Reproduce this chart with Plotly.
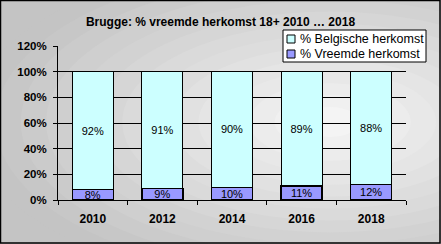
import plotly.graph_objects as go

years = ["2010", "2012", "2014", "2016", "2018"]
vreemde = [8, 9, 10, 11, 12]
belgische = [92, 91, 90, 89, 88]
y_ticks = [0, 20, 40, 60, 80, 100, 120]
y_tick_text = ["0%", "20%", "40%", "60%", "80%", "100%", "120%"]
series_names = ["% Belgische herkomst", "% Vreemde herkomst"]
series_colors = ["#CCFFFF", "#9999FF"]

W, H = 441, 244
L, R, T, B = 58, 35, 46, 44
PW, PH = W - L - R, H - T - B


def px_x(px):
    return (px - L) / PW


def px_y(py):
    return (H - B - py) / PH


fig = go.Figure()
fig.add_trace(go.Bar(
    x=years, y=vreemde, name=series_names[1],
    marker=dict(color=series_colors[1], line=dict(color="black", width=1.5)),
    text=[f"{v}%" for v in vreemde], textposition="inside",
    insidetextanchor="middle", constraintext="none",
    textfont=dict(family="Arial", size=11, color="black"),
    hoverinfo="skip", showlegend=False,
))
fig.add_trace(go.Bar(
    x=years, y=belgische, name=series_names[0],
    marker=dict(color=series_colors[0], line=dict(color="black", width=1)),
    text=[f"{v}%" for v in belgische], textposition="inside",
    insidetextanchor="middle", constraintext="none",
    textfont=dict(family="Arial", size=11, color="black"),
    hoverinfo="skip", showlegend=False,
))

# background gradient approximation (concentric ellipses)
shapes = []
n = 14
cx, cy = 330, 122
for i in range(n):
    f = i / (n - 1)
    rx = 360 * (1 - f) + 30 * f
    ry = 170 * (1 - f) + 15 * f
    c = int(0xC4 + (0xF4 - 0xC4) * f)
    col = f"rgb({c},{c},{c})"
    shapes.append(dict(type="circle", xref="paper", yref="paper", layer="below",
                       x0=px_x(cx - rx), x1=px_x(cx + rx),
                       y0=px_y(cy + ry), y1=px_y(cy - ry),
                       fillcolor=col, line=dict(width=0)))
# outer border
shapes.append(dict(type="rect", xref="paper", yref="paper", layer="above",
                   x0=px_x(0.5), x1=px_x(W - 1), y0=px_y(H - 1), y1=px_y(0.5),
                   line=dict(color="black", width=1.5), fillcolor="rgba(0,0,0,0)"))

# legend box (drawn manually to match compact Excel legend)
annotations = []
shapes.append(dict(type="rect", xref="paper", yref="paper", layer="above",
                   x0=px_x(283), x1=px_x(426), y0=px_y(62), y1=px_y(30),
                   line=dict(color="black", width=1), fillcolor="white"))
for i, (name, col) in enumerate(zip(series_names, series_colors)):
    yc = 39 + 15 * i
    shapes.append(dict(type="rect", xref="paper", yref="paper", layer="above",
                       x0=px_x(287), x1=px_x(295), y0=px_y(yc + 4), y1=px_y(yc - 4),
                       line=dict(color="black", width=1), fillcolor=col))
    annotations.append(dict(text=name, xref="paper", yref="paper",
                            x=px_x(298), y=px_y(yc), xanchor="left", yanchor="middle",
                            showarrow=False,
                            font=dict(family="Arial", size=12.5, color="black")))

fig.update_layout(
    width=W, height=H,
    margin=dict(l=L, r=R, t=T, b=B),
    barmode="stack", bargap=0.41,
    paper_bgcolor="#C4C4C4", plot_bgcolor="#C0C0C0",
    shapes=shapes, annotations=annotations,
    title=dict(text="<b>Brugge: % vreemde herkomst 18+ 2010 … 2018</b>",
               x=0.5, xref="container", xanchor="center",
               y=1 - 22 / H, yref="container", yanchor="middle",
               font=dict(family="Arial", size=12, color="black")),
    showlegend=False,
    font=dict(family="Arial", color="black"),
    uniformtext=dict(minsize=11, mode="show"),
)
fig.update_xaxes(
    type="category", showline=True, linecolor="black", linewidth=1,
    ticks="outside", tickson="boundaries", ticklen=4, tickcolor="black",
    ticklabelstandoff=8,
    tickfont=dict(family="Arial", size=12, color="black", weight="bold"),
    showgrid=False, fixedrange=True,
)
fig.update_yaxes(
    range=[0, 120], tickvals=y_ticks, ticktext=y_tick_text,
    showline=True, linecolor="black", linewidth=1,
    ticks="outside", ticklen=4, tickcolor="black",
    ticklabelstandoff=4,
    tickfont=dict(family="Arial", size=11.5, color="black", weight="bold"),
    showgrid=True, gridcolor="black", gridwidth=1, zeroline=False,
    fixedrange=True,
)

fig.write_html("out.html", config={"displayModeBar": False})
